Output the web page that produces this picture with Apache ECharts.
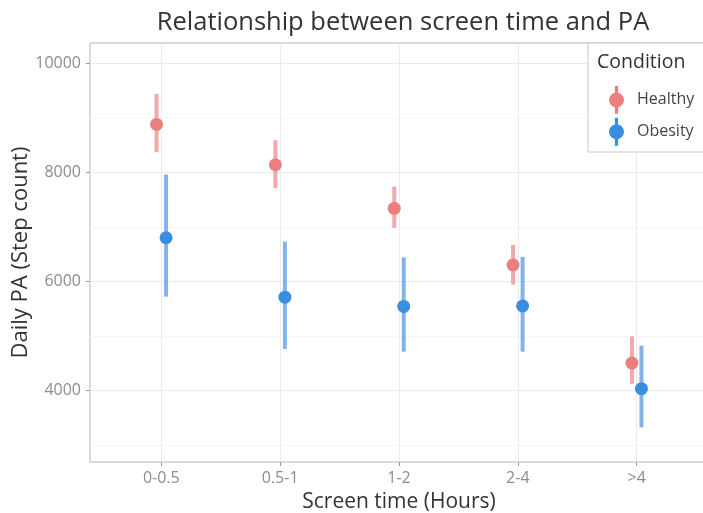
<!DOCTYPE html>
<html>
<head>
<meta charset="utf-8">
<script src="https://cdn.jsdelivr.net/npm/echarts@6/dist/echarts.min.js"></script>
<style>
  html, body { margin: 0; padding: 0; background: #fff; }
  #chart { width: 703px; height: 513px; }
</style>
</head>
<body>
<div id="chart"></div>
<script>
// categories on the x axis
const categories = ["0-0.5", "0.5-1", "1-2", "2-4", ">4"];
// Healthy: mean and error bar ends
const healthyMean = [8880, 8140, 7340, 6300, 4500];
const healthyLow = [8370, 7710, 6980, 5940, 4120];
const healthyHigh = [9440, 8590, 7740, 6670, 4990];
// Obesity: mean and error bar ends
const obesityMean = [6800, 5710, 5540, 5550, 4030];
const obesityLow = [5720, 4760, 4710, 4710, 3320];
const obesityHigh = [7960, 6730, 6440, 6450, 4820];
// y axis ticks
const yMajor = [4000, 6000, 8000, 10000];
const yMinor = [3000, 5000, 7000, 9000];

const dodge = 0.04;
const font = "Open Sans";

function points(mean, shift) {
  return mean.map((v, i) => [i + shift, v]);
}
function bars(low, high, shift) {
  return low.map((v, i) => [i + shift, v, high[i]]);
}
// draws one vertical error bar per data item
function barRenderer(color) {
  return function (params, api) {
    const p1 = api.coord([api.value(0), api.value(1)]);
    const p2 = api.coord([api.value(0), api.value(2)]);
    return {
      type: "line",
      shape: { x1: p1[0], y1: p1[1], x2: p2[0], y2: p2[1] },
      style: { stroke: color, lineWidth: 4 },
    };
  };
}

// point with a vertical bar, both drawn clockwise so they fill together
const legendIcon = "path://M5.5,0H8.5V26H5.5Z M0,13A7,7 0 1 1 14,13A7,7 0 1 1 0,13Z";

const chart = echarts.init(document.getElementById("chart"));
chart.setOption({
  animation: false,
  title: {
    text: "Relationship between screen time and PA",
    left: 398,
    top: 5,
    textAlign: "center",
    textStyle: { fontFamily: font, fontSize: 25.5, fontWeight: "normal", color: "#333" },
  },
  grid: {
    left: 90,
    top: 43,
    width: 618,
    bottom: 51,
    outerBoundsMode: "none",
    show: true,
    borderColor: "#b5b5b5",
    borderWidth: 1,
    backgroundColor: "#fff",
  },
  xAxis: {
    type: "value",
    min: -0.6,
    max: 4.6,
    name: "Screen time (Hours)",
    nameLocation: "middle",
    nameGap: 30,
    nameTextStyle: { fontFamily: font, fontSize: 21, color: "#333" },
    axisLine: { show: false, onZero: false },
    axisTick: { show: true, length: 4, customValues: [0, 1, 2, 3, 4], lineStyle: { color: "#999" } },
    axisLabel: {
      customValues: [0, 1, 2, 3, 4],
      formatter: (v) => categories[Math.round(v)],
      margin: 8,
      fontFamily: font,
      fontSize: 16,
      color: "#8c8c8c",
    },
    splitLine: { show: true, lineStyle: { color: "#ebebeb", width: 1 } },
  },
  yAxis: {
    type: "value",
    min: 2685,
    max: 10374,
    name: "Daily PA (Step count)",
    nameLocation: "middle",
    nameGap: 58,
    nameMoveOverlap: false,
    nameTextStyle: { fontFamily: font, fontSize: 22, color: "#333" },
    axisLine: { show: false, onZero: false },
    axisTick: { show: true, length: 4, customValues: yMajor, lineStyle: { color: "#999" } },
    axisLabel: {
      customValues: yMajor,
      formatter: (v) => String(v),
      margin: 9,
      fontFamily: font,
      fontSize: 16,
      color: "#8c8c8c",
    },
    splitLine: { show: true, lineStyle: { color: "#ebebeb", width: 1 } },
  },
  legend: {
    orient: "vertical",
    left: 604,
    top: 81,
    itemWidth: 15,
    itemHeight: 28,
    itemGap: 4,
    z: 10,
    data: [
      { name: "Healthy", icon: legendIcon, itemStyle: { color: "#eb7f80" } },
      { name: "Obesity", icon: legendIcon, itemStyle: { color: "#3a8ee0" } },
    ],
    textStyle: { fontFamily: font, fontSize: 16, color: "#444", padding: [0, 0, 0, 8] },
  },
  graphic: [
    {
      type: "rect",
      z: 8,
      shape: { x: 588, y: 43, width: 140, height: 109 },
      style: { fill: "#fff", stroke: "#c8c8c8", lineWidth: 1 },
    },
    {
      type: "text",
      z: 9,
      left: 597,
      top: 52,
      style: { text: "Condition", font: "19.5px 'Open Sans'", fill: "#333" },
    },
  ],
  series: [
    {
      // minor grid lines only
      type: "scatter",
      data: [],
      z: 1,
      silent: true,
      markLine: {
        z: 1,
        silent: true,
        symbol: "none",
        label: { show: false },
        lineStyle: { color: "#f5f5f5", width: 1, type: "solid" },
        data: yMinor.map((v) => ({ yAxis: v })),
      },
    },
    {
      name: "Healthy",
      type: "custom",
      renderItem: barRenderer("rgba(238,140,142,0.75)"),
      encode: { x: 0, y: [1, 2] },
      data: bars(healthyLow, healthyHigh, -dodge),
      z: 2,
    },
    {
      name: "Obesity",
      type: "custom",
      renderItem: barRenderer("rgba(100,160,228,0.8)"),
      encode: { x: 0, y: [1, 2] },
      data: bars(obesityLow, obesityHigh, dodge),
      z: 2,
    },
    {
      name: "Healthy",
      type: "scatter",
      symbolSize: 13,
      itemStyle: { color: "#eb7f80", opacity: 1 },
      data: points(healthyMean, -dodge),
      z: 3,
    },
    {
      name: "Obesity",
      type: "scatter",
      symbolSize: 13,
      itemStyle: { color: "#3a8ee0", opacity: 1 },
      data: points(obesityMean, dodge),
      z: 3,
    },
  ],
});
</script>
</body>
</html>
